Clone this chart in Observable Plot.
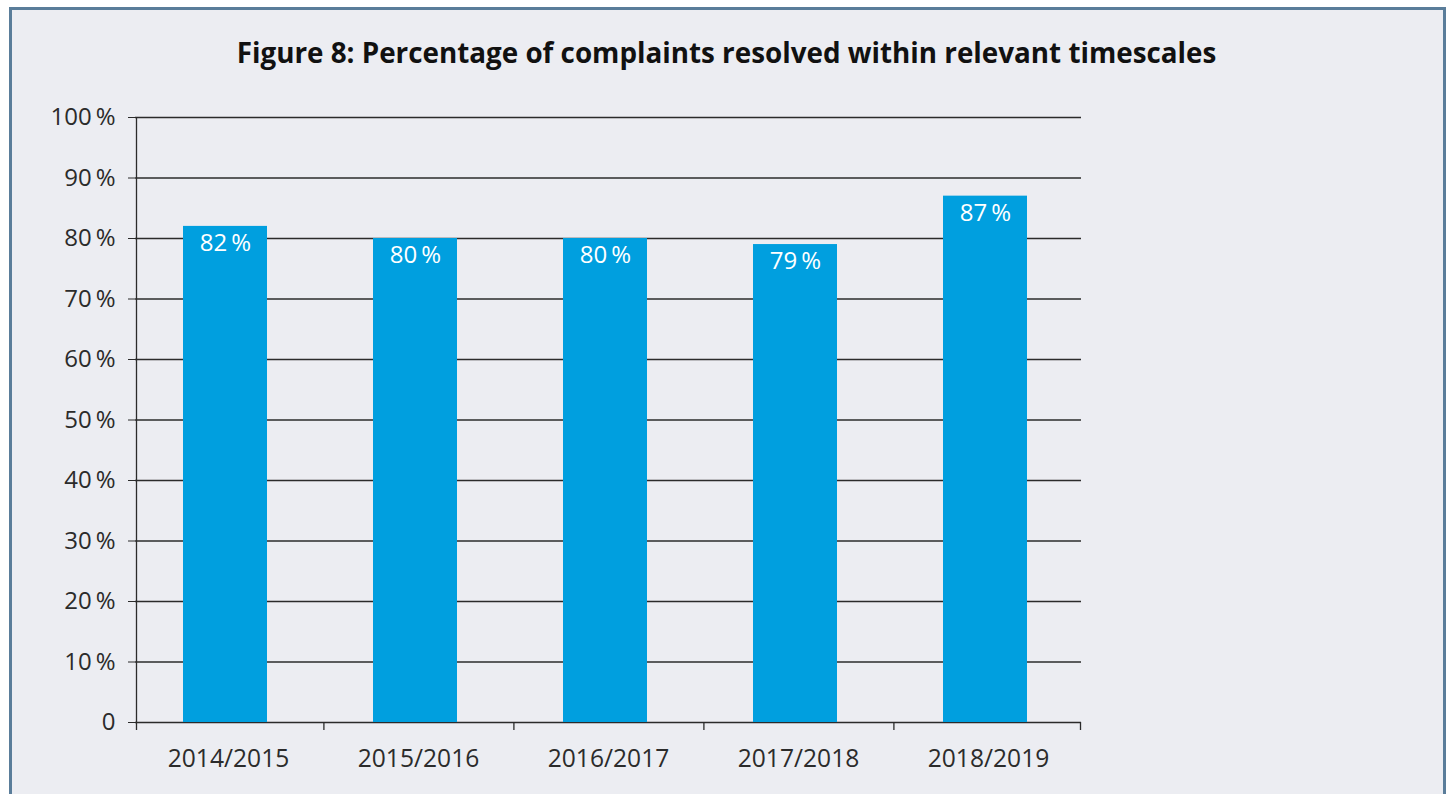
<!DOCTYPE html>
<html>
<head>
<meta charset="utf-8">
<script src="https://cdn.jsdelivr.net/npm/d3@7"></script>
<script src="https://cdn.jsdelivr.net/npm/@observablehq/plot@0.6"></script>
<style>
  html, body { margin: 0; padding: 0; background: #ffffff; width: 1451px; height: 794px; overflow: hidden; }
  #frame { position: absolute; left: 9px; top: 7px; width: 1437px; height: 820px; box-sizing: border-box;
           border: 3px solid #5a7d9a; background: #ecedf2; }
  #title { position: absolute; left: 0; top: 35px; width: 1453px; text-align: center;
           font-family: "Open Sans", sans-serif; font-weight: 700; font-size: 27.8px; line-height: 34px; color: #111; }
  #chart { position: absolute; left: 0; top: 80px; }
</style>
</head>
<body>
<div id="frame"></div>
<div id="title">Figure 8: Percentage of complaints resolved within relevant timescales</div>
<div id="chart"></div>
<script>
const years = ["2014/2015", "2015/2016", "2016/2017", "2017/2018", "2018/2019"];
const percentages = [82, 80, 80, 79, 87];
const yTicks = [0, 10, 20, 30, 40, 50, 60, 70, 80, 90, 100];

const data = years.map((year, i) => ({year, pct: percentages[i]}));

const W = 1451, H = 714, ml = 135, mr = 370, mt = 37, mb = 72;
const boundaryStep = (W - ml - mr) / years.length;
const ink = "#2b2b2b";
const fmt = d => d === 0 ? "0" : d + "\u2009%";

const chart = Plot.plot({
  width: W, height: H,
  marginLeft: ml, marginRight: mr, marginTop: mt, marginBottom: mb,
  style: {background: "transparent", fontFamily: "'Open Sans', sans-serif", fontSize: "24px", color: ink},
  x: {domain: years, paddingInner: 0.559, paddingOuter: 0.2625, align: 0.47, label: null},
  y: {domain: [0, 100], label: null},
  marks: [
    Plot.ruleY(yTicks, {stroke: ink, strokeWidth: 1.3}),
    Plot.barY(data, {x: "year", y: "pct", fill: "#009fdf"}),
    Plot.axisY({ticks: yTicks, tickSize: 7, tickPadding: 13, tickFormat: fmt, fontSize: 24, label: null, stroke: ink}),
    Plot.axisX({tickSize: 0, tickPadding: 27, fontSize: 24.6, dx: 3, label: null}),
    Plot.ruleX([years[0]], {x: d => d, dx: -89, y1: 100, y2: 0, insetBottom: -8, stroke: ink, strokeWidth: 1.3}),
    Plot.ruleX(years.slice(1), {x: d => d, dx: -boundaryStep / 2 + 3, y1: 0, y2: 0, insetBottom: -8, stroke: ink, strokeWidth: 1.3}),
    Plot.ruleX([years[years.length - 1]], {x: d => d, dx: 95, y1: 0, y2: 0, insetBottom: -8, stroke: ink, strokeWidth: 1.3}),
    Plot.text(data, {x: "year", y: "pct", text: d => d.pct + "\u2009%", dy: 17, fill: "white", fontSize: 24})
  ]
});
document.getElementById("chart").appendChild(chart);
</script>
</body>
</html>
